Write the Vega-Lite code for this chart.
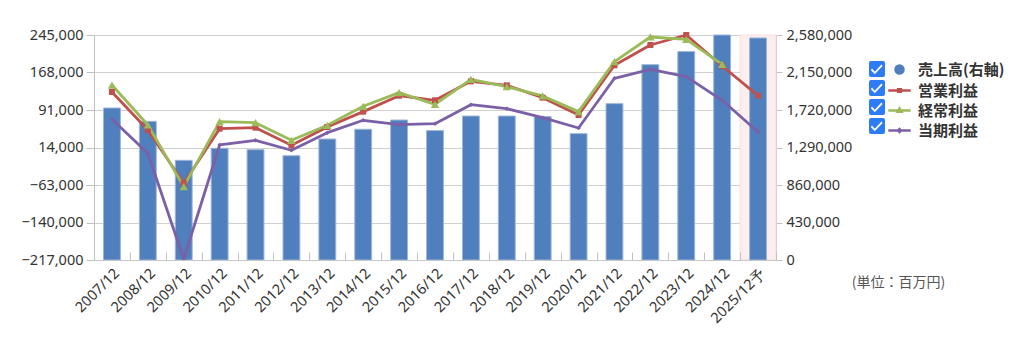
{
  "$schema": "https://vega.github.io/schema/vega-lite/v6.json",
  "width": 682,
  "height": 225,
  "autosize": {"type": "pad"},
  "padding": {"left": 21, "top": 27, "right": 5, "bottom": 5},
  "background": "white",
  "config": {
    "view": {"stroke": null},
    "font": "Noto Sans",
    "axis": {"labelFont": "Noto Sans", "labelColor": "#333333", "domainColor": "#c0c0c0", "tickColor": "#c0c0c0", "gridColor": "#d0d0d0", "title": null},
    "legend": {"title": null, "orient": "none", "legendX": 796, "legendY": 25, "symbolSize": 256, "symbolOpacity": 1, "symbolStrokeWidth": 2.5, "labelFont": "Noto Sans CJK JP", "labelFontSize": 15, "labelFontWeight": "bold", "labelColor": "#333333", "labelOffset": 9, "rowPadding": 2, "padding": 0}
  },
  "data": {
    "values": [
      {"year": "2007/12", "sales": 1743000, "op": 128000, "ord": 142300, "net": 71900},
      {"year": "2008/12", "sales": 1590000, "op": 50000, "ord": 60200, "net": 2100},
      {"year": "2009/12", "sales": 1143000, "op": -59500, "ord": -66400, "net": -215000},
      {"year": "2010/12", "sales": 1281000, "op": 52700, "ord": 67000, "net": 19200},
      {"year": "2011/12", "sales": 1265000, "op": 54700, "ord": 65000, "net": 28800},
      {"year": "2012/12", "sales": 1196000, "op": 18500, "ord": 28800, "net": 8300},
      {"year": "2013/12", "sales": 1387000, "op": 56100, "ord": 59600, "net": 44400},
      {"year": "2014/12", "sales": 1499000, "op": 87600, "ord": 98600, "net": 69900},
      {"year": "2015/12", "sales": 1605000, "op": 120400, "ord": 126600, "net": 60900},
      {"year": "2016/12", "sales": 1484000, "op": 110900, "ord": 102700, "net": 62900},
      {"year": "2017/12", "sales": 1651000, "op": 149900, "ord": 154000, "net": 101900},
      {"year": "2018/12", "sales": 1651000, "op": 141700, "ord": 138900, "net": 93700},
      {"year": "2019/12", "sales": 1645000, "op": 116300, "ord": 119800, "net": 75200},
      {"year": "2020/12", "sales": 1449000, "op": 80800, "ord": 87600, "net": 54100},
      {"year": "2021/12", "sales": 1793000, "op": 182800, "ord": 190200, "net": 156100},
      {"year": "2022/12", "sales": 2240000, "op": 224500, "ord": 240900, "net": 174600},
      {"year": "2023/12", "sales": 2390000, "op": 245000, "ord": 236100, "net": 159400},
      {"year": "2024/12", "sales": 2580000, "op": 181400, "ord": 184800, "net": 110900},
      {"year": "2025/12予", "sales": 2546000, "op": 120400, "ord": null, "net": 45900, "forecast": true}
    ]
  },
  "encoding": {
    "x": {
      "field": "year", "type": "nominal", "sort": null,
      "scale": {"domain": ["2007/12", "2008/12", "2009/12", "2010/12", "2011/12", "2012/12", "2013/12", "2014/12", "2015/12", "2016/12", "2017/12", "2018/12", "2019/12", "2020/12", "2021/12", "2022/12", "2023/12", "2024/12", "2025/12予"], "paddingInner": 0, "paddingOuter": 0},
      "axis": {"labelAngle": -45, "labelFontSize": 14.5, "tickBand": "extent", "tickSize": -8, "labelPadding": 14, "domainColor": "#c8c8c8"}
    }
  },
  "layer": [
    {
      "transform": [{"filter": "datum.forecast === true"}],
      "mark": {"type": "rect", "color": "#fdeeee", "stroke": "#f6dede", "strokeWidth": 1}
    },
    {
      "mark": {"type": "bar", "width": {"band": 0.47}, "color": "#4f7fbc", "stroke": "#9db5da", "strokeWidth": 1},
      "encoding": {
        "y": {
          "field": "sales", "type": "quantitative",
          "scale": {"domain": [0, 2580000], "nice": false, "zero": true},
          "axis": {"orient": "right", "values": [0, 430000, 860000, 1290000, 1720000, 2150000, 2580000], "format": ",d", "grid": false, "tickSize": 6, "labelPadding": 4, "labelFontSize": 14.5,
            "title": "(単位：百万円)", "titleFont": "Noto Sans CJK JP", "titleFontSize": 14, "titleFontWeight": "normal", "titleColor": "#555555", "titleAngle": 0, "titleAlign": "center", "titleBaseline": "middle", "titleX": 122, "titleY": 247}
        }
      }
    },
    {
      "layer": [
        {
          "mark": {"type": "rule", "color": "#43306e", "strokeDash": [5, 4], "strokeWidth": 1.3},
          "encoding": {"y": {"datum": 0, "type": "quantitative"}}
        },
        {
          "transform": [
            {"fold": ["op", "ord", "net"], "as": ["key", "value"]},
            {"filter": "datum.value != null"},
            {"calculate": "datum.key == 'op' ? '営業利益' : datum.key == 'ord' ? '経常利益' : '当期利益'", "as": "series"}
          ],
          "layer": [
            {
              "mark": {"type": "line", "strokeWidth": 2.8, "strokeJoin": "round"},
              "encoding": {
                "color": {"field": "series", "type": "nominal", "scale": {"domain": ["営業利益", "経常利益", "当期利益"], "range": ["#c0504d", "#9bbb59", "#7b60a8"]}, "legend": null}
              }
            },
            {
              "transform": [{"filter": "datum.key == 'op'"}],
              "mark": {"type": "point", "filled": true, "opacity": 1, "shape": "square", "size": 36},
              "encoding": {"color": {"field": "series", "type": "nominal", "legend": null}}
            },
            {
              "transform": [{"filter": "datum.key == 'ord'"}],
              "mark": {"type": "point", "filled": true, "opacity": 1, "shape": "triangle-up", "size": 70},
              "encoding": {"color": {"field": "series", "type": "nominal", "legend": null}}
            },
            {
              "transform": [{"filter": "datum.key == 'net'"}],
              "mark": {"type": "point", "filled": true, "opacity": 1, "shape": "diamond", "size": 20},
              "encoding": {"color": {"field": "series", "type": "nominal", "legend": null}}
            },
            {
              "mark": {"type": "point", "filled": true, "opacity": 0, "color": "#2e7bf6"},
              "encoding": {
                "fill": {"field": "series", "type": "nominal", "scale": {"domain": ["売上高(右軸)", "営業利益", "経常利益", "当期利益"], "range": ["#4f7fbc", "#c0504d", "#9bbb59", "#7b60a8"]}},
                "stroke": {"field": "series", "type": "nominal", "scale": {"domain": ["売上高(右軸)", "営業利益", "経常利益", "当期利益"], "range": ["#4f7fbc", "#c0504d", "#9bbb59", "#7b60a8"]}},
                "shape": {"field": "series", "type": "nominal", "scale": {"domain": ["売上高(右軸)", "営業利益", "経常利益", "当期利益"], "range": ["M-0.5,0A0.5,0.5 0 1,0 0.5,0A0.5,0.5 0 1,0 -0.5,0Z", "M-1.4,0H1.4M-0.16,-0.16H0.16V0.16H-0.16Z", "M-1.4,0H1.4M0,-0.26L0.24,0.16H-0.24Z", "M-1.4,0H1.4M0,-0.18L0.18,0L0,0.18L-0.18,0Z"]}},
                "strokeDash": {"field": "key", "type": "nominal", "scale": {"domain": ["sales", "op", "ord", "net"], "range": [[1, 0], [1, 0], [1, 0], [1, 0]]},
                  "legend": {"legendX": 775, "legendY": 26, "symbolType": "M-1,-0.75Q-1,-1 -0.75,-1H0.75Q1,-1 1,-0.75V0.75Q1,1 0.75,1H-0.75Q-1,1 -1,0.75ZM-0.62,-0.05L-0.77,0.12L-0.28,0.65L0.7,-0.38L0.55,-0.55L-0.28,0.33Z", "symbolFillColor": "#2e7bf6", "symbolStrokeColor": "#2e7bf6", "symbolStrokeWidth": 0, "labelExpr": "''", "labelOffset": 0, "symbolSize": 256, "rowPadding": 3}}
              }
            }
          ]
        }
      ],
      "encoding": {
        "y": {
          "type": "quantitative",
          "field": "value",
          "scale": {"domain": [-217000, 245000], "nice": false, "zero": false},
          "axis": {"orient": "left", "values": [-217000, -140000, -63000, 14000, 91000, 168000, 245000], "format": ",d", "grid": true, "tickSize": 8, "labelPadding": 3, "labelFontSize": 14.5}
        }
      }
    }
  ],
  "resolve": {"scale": {"y": "independent"}}
}
